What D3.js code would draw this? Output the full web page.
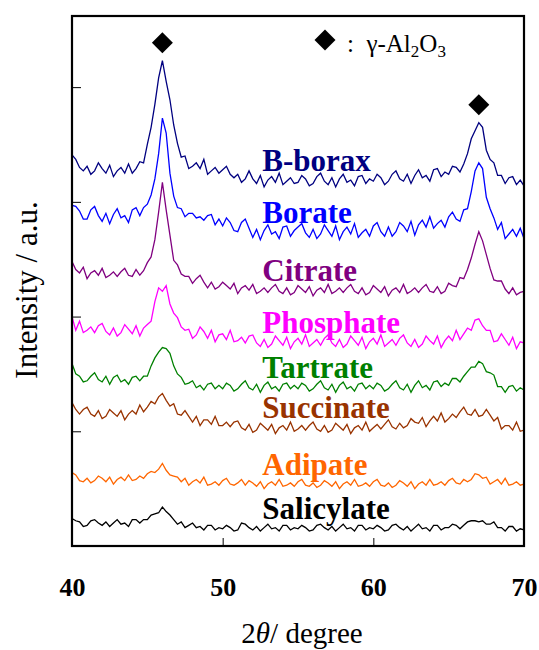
<!DOCTYPE html>
<html><head><meta charset="utf-8">
<script src="https://cdn.jsdelivr.net/npm/d3@7"></script>
<style>body{margin:0;background:#fff;} svg{display:block;}</style>
</head><body>
<svg id="chart" width="539" height="650"></svg>
<script>
// ---- data ----
const angleStart = 40, angleStep = 0.25;          // 2θ grid of the patterns
const xDomain = [40, 70];
const xTicks = [40, 50, 60, 70];
const yTicks = [100, 200, 300, 400];
const yMax = 462;
const peakAngles = [46, 67];                        // γ-Al2O3 reflections
const seriesNames = ["B-borax","Borate","Citrate","Phosphate","Tartrate","Succinate","Adipate","Salicylate"];
const seriesColors = ["#000080","#0000FF","#800080","#FF00FF","#008000","#993300","#FF6600","#000000"];

const bBorax = [341,337,330,327, 331,324,327,334, 329,325,332,322, 327,330,325,333, 325,329,335,334,
  350,365,385,408, 423,405,389,367, 351,339,340,329, 331,334,329,337, 324,327,330,325, 328,331,324,321,
  324,317,320,327, 320,316,323,313, 319,322,317,325, 315,318,321,316, 317,323,320,314, 316,322,325,318,
  315,321,313,320, 324,317,319,314, 322,323,316,320, 318,324,321,315, 318,324,327,320, 318,324,316,323,
  328,321,323,318, 328,329,322,326, 324,331,330,326, 333,342,355,362, 369,365,345,337, 334,323,323,316,
  321,322,315,319, 314];
const borate = [297,296,292,285, 285,293,296,288, 283,290,281,289, 294,286,288,282, 293,295,288,295,
  298,306,320,342, 373,360,325,305, 295,294,287,290, 290,286,287,284, 288,289,280,285, 279,286,282,275,
  274,282,285,277, 269,276,267,275, 280,272,274,268, 278,279,270,275, 278,281,273,269, 276,268,272,280,
  275,270,279,267, 274,278,272,281, 269,273,276,270, 279,282,274,270, 278,270,274,282, 279,274,283,271,
  280,284,278,287, 277,281,284,278, 287,291,285,283, 293,294,309,327, 334,329,304,294, 286,276,282,268,
  272,276,270,277, 268];
const citrate = [248,241,238,243, 233,238,240,236, 242,234,236,239, 235,239,242,236, 235,241,236,240,
  247,252,267,291, 317,293,271,249, 245,237,235,235, 229,233,236,230, 225,230,224,226, 230,227,224,229,
  220,225,227,223, 228,220,222,225, 221,225,228,222, 220,225,219,221, 227,224,221,226, 218,223,225,221,
  228,220,222,225, 221,225,228,222, 220,225,219,221, 227,224,221,226, 218,223,225,221, 228,220,222,225,
  221,225,228,222, 221,226,220,222, 229,227,226,234, 233,241,251,263, 274,266,254,242, 232,231,231,224,
  220,225,219,221, 222];
const phosphate = [200,188,196,186, 188,191,186,192, 194,187,184,190, 183,186,193,189, 185,192,183,190,
  193,196,213,225, 222,227,211,203, 199,191,188,189, 181,184,191,187, 181,188,178,184, 185,180,188,178,
  179,182,177,183, 184,177,174,180, 173,176,183,179, 175,182,172,178, 181,176,184,174, 177,180,175,181,
  184,177,174,180, 173,176,183,179, 175,182,172,178, 181,176,184,174, 177,180,175,181, 184,177,174,180,
  173,176,183,179, 176,183,173,179, 183,179,188,180, 185,190,188,197, 198,192,188,188, 178,179,185,180,
  175,182,172,178, 177];
const tartrate = [159,150,148,143, 144,148,151,145, 143,148,141,147, 149,143,145,141, 147,148,144,148,
  148,157,164,169, 173,172,168,157, 150,147,141,142, 144,138,140,136, 141,142,137,140, 137,142,140,135,
  137,141,144,138, 136,141,134,140, 143,137,139,135, 141,142,137,140, 137,142,140,135, 137,141,144,138,
  136,141,134,140, 143,137,139,135, 141,142,137,140, 137,142,140,135, 137,141,144,138, 136,141,134,140,
  144,138,140,136, 143,144,139,142, 140,146,146,143, 148,152,156,156, 161,159,152,151, 149,139,139,134,
  139,140,135,138, 136];
const succinate = [125,119,115,119, 121,115,113,118, 111,113,119,116, 113,118,110,115, 118,115,123,117,
  121,126,124,130, 133,127,122,124, 115,114,118,113, 108,113,105,110, 110,106,113,105, 105,108,104,108,
  109,103,101,106, 99,101,107,104, 101,106,98,103, 105,101,108,100, 102,105,101,105, 108,102,100,105,
  99,101,107,104, 101,106,98,103, 105,101,108,100, 103,106,102,106, 110,104,102,107, 103,105,111,108,
  107,112,104,109, 113,109,116,108, 111,115,112,117, 121,115,114,119, 113,114,119,114, 109,112,102,105,
  105,101,108,100, 101];
const adipate = [64,62,57,56, 59,55,57,61, 59,56,60,54, 58,60,57,62, 57,58,61,59,
  63,65,64,67, 72,66,62,61, 60,56,59,53, 56,58,55,60, 53,54,56,53, 57,59,54,53,
  55,58,53,57, 55,52,56,50, 54,56,53,58, 52,53,55,52, 56,58,53,52, 55,51,53,57,
  55,52,56,50, 54,56,53,58, 52,53,55,52, 56,58,53,52, 55,51,53,57, 55,52,56,50,
  54,56,53,58, 53,54,56,53, 57,59,55,54, 58,56,58,63, 62,59,60,54, 56,58,54,59,
  53,54,56,53, 54];
const salicylate = [24,22,21,17, 18,22,23,20, 18,21,17,20, 23,19,20,17, 23,23,20,23,
  23,27,28,29, 34,30,27,23, 19,21,16,18, 20,16,17,14, 18,18,14,16, 15,18,16,13,
  14,20,19,16, 14,17,13,16, 19,15,16,13, 18,18,14,16, 15,18,16,13, 14,18,19,16,
  14,17,13,16, 19,15,16,13, 18,18,14,16, 15,18,16,13, 14,18,19,16, 14,17,13,16,
  19,15,16,13, 18,18,14,16, 16,19,18,15, 18,21,22,22, 21,22,19,19, 21,16,16,13,
  17,17,13,15, 14];
const seriesValues = [bBorax, borate, citrate, phosphate, tartrate, succinate, adipate, salicylate];
const labelAngle = 52.5;

// ---- drawing ----
const svg = d3.select("#chart");
const L = 72, T = 16, R = 524, B = 546;
const x = d3.scaleLinear().domain(xDomain).range([L, R]);
const y = d3.scaleLinear().domain([0, yMax]).range([B, T]);
const serif = "'Liberation Serif','Times New Roman',serif";

const line = d3.line()
  .x((d, i) => x(angleStart + i * angleStep))
  .y(d => y(d));

seriesValues.forEach((vals, k) => {
  svg.append("path")
    .datum(vals)
    .attr("d", line)
    .attr("fill", "none")
    .attr("stroke", seriesColors[k])
    .attr("stroke-width", 1.3)
    .attr("stroke-linejoin", "miter");
});

// series labels
seriesValues.forEach((vals, k) => {
  const i0 = Math.round((labelAngle - angleStart) / angleStep);
  const level = d3.mean(vals.slice(i0, i0 + 16));
  svg.append("text")
    .attr("x", x(labelAngle) + 2)
    .attr("y", y(level) - 9)
    .attr("font-family", serif)
    .attr("font-weight", "bold")
    .attr("font-size", 31)
    .attr("fill", seriesColors[k])
    .text(seriesNames[k]);
});

// axes
const xAxis = svg.append("g").attr("transform", `translate(0,${B})`)
  .call(d3.axisBottom(x).tickValues(xTicks).tickSize(-8).tickSizeOuter(0).tickPadding(32));
xAxis.select(".domain").remove();
xAxis.selectAll("line").attr("stroke", "#000").attr("stroke-width", 1);
xAxis.selectAll("text").attr("font-family", serif).attr("font-weight", "bold")
  .attr("font-size", 26).attr("fill", "#000");

const yAxis = svg.append("g").attr("transform", `translate(${L},0)`)
  .call(d3.axisLeft(y).tickValues(yTicks).tickSize(-9).tickSizeOuter(0).tickFormat(""));
yAxis.select(".domain").remove();
yAxis.selectAll("line").attr("stroke", "#000").attr("stroke-width", 1);

// frame
svg.append("rect").attr("x", L).attr("y", T).attr("width", R - L).attr("height", B - T)
  .attr("fill", "none").attr("stroke", "#000").attr("stroke-width", 2.2);

// peak markers
const diamond = d3.symbol().type(d3.symbolSquare).size(220);
peakAngles.forEach(a => {
  const i0 = Math.round((a - 0.5 - angleStart) / angleStep);
  const i1 = Math.round((a + 0.5 - angleStart) / angleStep);
  const top = d3.max(bBorax.slice(i0, i1 + 1));
  svg.append("path").attr("d", diamond())
    .attr("transform", `translate(${x(a)},${y(top) - 18}) rotate(45)`)
    .attr("fill", "#000");
});

// legend
svg.append("path").attr("d", diamond())
  .attr("transform", `translate(325,40) rotate(45)`).attr("fill", "#000");
const leg = svg.append("text").attr("x", 347).attr("y", 52)
  .attr("font-family", serif).attr("font-size", 25).attr("fill", "#000");
leg.append("tspan").text(":\u00a0\u00a0γ-Al");
leg.append("tspan").attr("font-size", 17).attr("dy", 5).text("2");
leg.append("tspan").attr("dy", -5).text("O");
leg.append("tspan").attr("font-size", 17).attr("dy", 5).text("3");

// axis titles
const xt = svg.append("text").attr("x", 302).attr("y", 643).attr("text-anchor", "middle")
  .attr("font-family", serif).attr("font-size", 29).attr("fill", "#000");
xt.append("tspan").text("2");
xt.append("tspan").attr("font-style", "italic").text("θ");
xt.append("tspan").text("/ degree");

svg.append("text")
  .attr("transform", "translate(37,290) rotate(-90)")
  .attr("text-anchor", "middle")
  .attr("font-family", serif).attr("font-size", 31).attr("fill", "#000")
  .text("Intensity / a.u.");
</script>
</body></html>
